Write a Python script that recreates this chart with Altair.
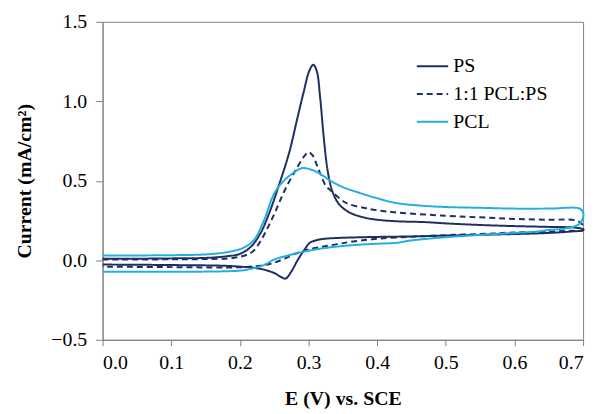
import altair as alt
import pandas as pd

SERIES = ["PS", "1:1 PCL:PS", "PCL"]
COLORS = ["#1f2f63", "#1f2f63", "#22aee0"]
DASHES = [[1, 0], [6, 4], [1, 0]]

# PS : forward scan then reverse scan
PS_X = [0.00, 0.05, 0.10, 0.15, 0.18, 0.20, 0.216, 0.23, 0.243, 0.259, 0.272, 0.283,
        0.293, 0.301, 0.307, 0.312, 0.317, 0.322, 0.328, 0.335, 0.345, 0.36, 0.38,
        0.40, 0.43, 0.47, 0.50, 0.55, 0.60, 0.65, 0.69, 0.70,
        0.70, 0.68, 0.65, 0.60, 0.55, 0.50, 0.45, 0.40, 0.36, 0.34, 0.325, 0.313,
        0.302, 0.293, 0.284, 0.275, 0.2666, 0.26, 0.25, 0.236, 0.22, 0.20, 0.18,
        0.15, 0.10, 0.05, 0.00]
PS_Y = [0.010, 0.010, 0.012, 0.015, 0.025, 0.040, 0.085, 0.17, 0.30, 0.50, 0.68, 0.88,
        1.06, 1.19, 1.23, 1.19, 1.02, 0.78, 0.56, 0.43, 0.35, 0.30, 0.27,
        0.255, 0.245, 0.24, 0.232, 0.222, 0.215, 0.21, 0.205, 0.195,
        0.19, 0.18, 0.172, 0.165, 0.160, 0.155, 0.150, 0.147, 0.143, 0.140, 0.136, 0.128,
        0.11, 0.06, 0.00, -0.07, -0.115, -0.105, -0.08, -0.06, -0.047, -0.040, -0.035,
        -0.032, -0.030, -0.028, -0.027]

# 1:1 PCL:PS
MIX_X = [0.00, 0.10, 0.15, 0.19, 0.21, 0.22, 0.23, 0.24, 0.25, 0.259, 0.27, 0.283,
         0.293, 0.300, 0.306, 0.312, 0.317, 0.325, 0.332, 0.345, 0.356, 0.38, 0.40,
         0.43, 0.50, 0.55, 0.60, 0.65, 0.69, 0.70,
         0.70, 0.68, 0.65, 0.60, 0.55, 0.50, 0.45, 0.40, 0.36, 0.34, 0.32, 0.30,
         0.28, 0.265, 0.25, 0.235, 0.21, 0.18, 0.10, 0.00]
MIX_Y = [0.005, 0.006, 0.008, 0.015, 0.035, 0.06, 0.12, 0.20, 0.29, 0.38, 0.48, 0.58,
         0.65, 0.68, 0.66, 0.60, 0.545, 0.47, 0.44, 0.39, 0.358, 0.33, 0.315,
         0.30, 0.28, 0.27, 0.26, 0.255, 0.25, 0.22,
         0.19, 0.185, 0.18, 0.175, 0.165, 0.158, 0.148, 0.135, 0.115, 0.10, 0.085, 0.068,
         0.04, 0.01, -0.015, -0.03, -0.042, -0.045, -0.043, -0.040]

# PCL
PCL_X = [0.00, 0.10, 0.15, 0.18, 0.20, 0.21, 0.221, 0.235, 0.25, 0.264, 0.283,
         0.291, 0.30, 0.31, 0.32, 0.332, 0.35, 0.37, 0.40, 0.428, 0.46, 0.50, 0.55,
         0.60, 0.65, 0.695, 0.70,
         0.70, 0.695, 0.68, 0.65, 0.63, 0.60, 0.544, 0.50, 0.45, 0.428, 0.40, 0.37,
         0.341, 0.32, 0.30, 0.283, 0.27, 0.25, 0.235, 0.211, 0.20, 0.17, 0.10, 0.00]
PCL_Y = [0.030, 0.032, 0.037, 0.05, 0.07, 0.09, 0.13, 0.25, 0.42, 0.50, 0.565,
         0.58, 0.575, 0.56, 0.535, 0.50, 0.46, 0.43, 0.39, 0.36, 0.345, 0.335, 0.33,
         0.325, 0.325, 0.325, 0.30,
         0.27, 0.23, 0.205, 0.19, 0.18, 0.172, 0.158, 0.145, 0.125, 0.11, 0.104, 0.097,
         0.086, 0.075, 0.06, 0.045, 0.03, 0.005, -0.03, -0.058, -0.065, -0.07, -0.072, -0.072]

rows = []
for name, xs, ys in [("PS", PS_X, PS_Y), ("1:1 PCL:PS", MIX_X, MIX_Y), ("PCL", PCL_X, PCL_Y)]:
    for i, (x, y) in enumerate(zip(xs, ys)):
        rows.append({"series": name, "E": x, "I": y, "order": i})
df = pd.DataFrame(rows)

FONT = "Liberation Serif"

legend = alt.Legend(
    title=None, orient="none", legendX=316, legendY=28,
    symbolType="stroke", symbolSize=1000, symbolStrokeWidth=2,
    labelFont=FONT, labelFontSize=20, labelColor="black", labelOffset=4,
    rowPadding=1, labelLimit=300,
)

chart = alt.Chart(df).mark_line(interpolate="catmull-rom", strokeWidth=2).encode(
    x=alt.X("E:Q", scale=alt.Scale(domain=[0, 0.7], nice=False),
            axis=alt.Axis(title="E (V) vs. SCE", values=[0, 0.1, 0.2, 0.3, 0.4, 0.5, 0.6, 0.7],
                          format=".1f", titlePadding=16, labelPadding=7, tickSize=6)),
    y=alt.Y("I:Q", scale=alt.Scale(domain=[-0.5, 1.5], nice=False),
            axis=alt.Axis(title="Current (mA/cm²)", values=[-0.5, 0, 0.5, 1.0, 1.5],
                          format=".1f", titlePadding=17, labelPadding=9, tickSize=7)),
    color=alt.Color("series:N", scale=alt.Scale(domain=SERIES, range=COLORS), legend=legend),
    strokeDash=alt.StrokeDash("series:N", scale=alt.Scale(domain=SERIES, range=DASHES), legend=legend),
    order="order:Q",
).properties(
    width=485, height=321,
    autosize=alt.AutoSizeParams(type="none"),
    padding={"left": 95.5, "top": 12, "right": 10, "bottom": 73},
).configure_axis(
    grid=False, domainColor="#7f7f7f", tickColor="#7f7f7f",
    labelFont=FONT, labelFontSize=20, labelColor="black",
    titleFont=FONT, titleFontSize=20, titleFontWeight="bold", titleColor="black",
).configure_legend(
    labelFont=FONT,
).configure_view(stroke="#7f7f7f", strokeWidth=1)

chart.save("out.html", embed_options={"renderer": "svg", "actions": False})
